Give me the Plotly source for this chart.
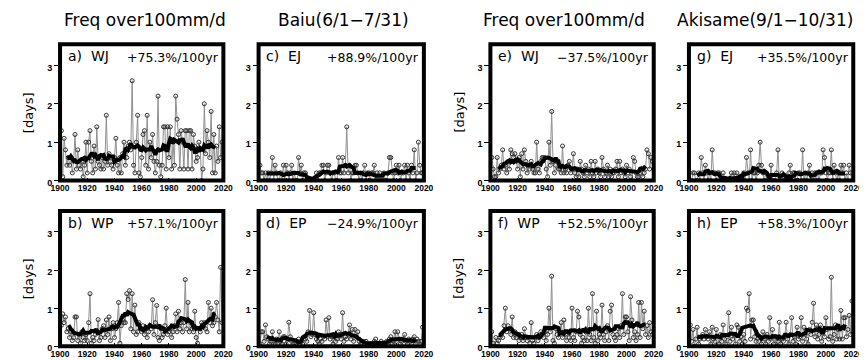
import numpy as np
import pandas as pd
import plotly.graph_objects as go

years = list(range(1901, 2020))

baiu_wj = [1.3,0.1,1.1,0.8,0.4,0.6,0.4,0.6,0.2,0.5,
           1.2,0.3,0.8,0.4,0.3,0.5,0.1,0.4,1.0,0.2,
           1.0,1.3,0.5,0.2,0.9,0.3,1.4,0.5,0.4,0.3,
           0.6,0.3,0.5,1.7,0.4,0.7,0.5,0.4,0.3,0.6,
           1.1,0.4,0.2,0.6,0.2,0.7,1.0,0.4,0.6,0.9,
           1.0,0.8,2.6,0.4,0.2,1.0,1.7,0.2,0.1,0.6,
           1.2,1.3,0.4,1.7,0.3,1.0,0.6,1.2,0.5,0.2,
           0.5,2.2,0.4,0.1,0.4,1.4,1.4,0.3,1.4,0.6,
           1.4,0.3,1.0,0.4,2.2,1.6,1.2,0.3,1.3,1.0,
           0.3,1.3,1.3,0.3,1.3,1.3,0.3,1.2,0.9,0.5,
           0.6,1.0,0.8,0.0,0.3,2.0,0.7,1.3,1.0,0.6,
           1.8,0.2,1.2,0.2,0.9,0.5,1.4,0.6,1.0]

baiu_wp = [0.55,0.85,0.62,0.77,0.38,0.46,0.23,0.38,0.15,0.23,
           0.77,0.77,0.15,0.31,0.08,0.38,0.23,0.15,0.31,0.15,
           0.62,1.38,0.08,0.23,0.15,0.31,0.38,0.70,0.15,0.23,
           0.46,0.54,0.23,0.69,0.31,0.77,0.15,0.46,0.62,0.23,
           0.46,0.62,1.15,0.08,0.54,0.69,0.62,0.62,1.38,1.23,
           1.46,0.46,1.38,0.38,1.08,0.31,0.38,0.62,0.46,0.38,
           0.54,0.31,0.46,0.23,0.38,0.54,0.46,1.22,0.31,0.62,
           1.07,0.23,0.15,0.46,0.23,0.31,0.54,1.00,0.31,0.38,
           0.46,0.23,0.38,0.54,0.85,0.38,0.92,0.46,0.62,0.38,
           0.62,1.75,0.46,1.15,0.38,0.62,0.46,0.38,0.92,0.23,
           0.08,0.46,0.38,0.62,0.54,0.62,0.46,0.38,1.15,0.62,
           1.00,0.54,0.62,0.77,1.15,0.69,0.38,2.07,0.62]

baiu_ej = [0.4,0.2,0.2,0.0,0.2,0.0,0.2,0.0,0.2,0.6,
           0.0,0.4,0.2,0.0,0.0,0.2,0.0,0.4,0.0,0.4,
           0.2,0.0,0.2,0.4,0.0,0.2,0.0,0.0,0.6,0.2,
           0.4,0.0,0.2,0.2,0.0,0.0,0.0,0.0,0.0,0.0,
           0.0,0.2,0.0,0.2,0.2,0.4,0.4,0.0,0.2,0.4,
           0.4,0.2,0.0,0.2,0.2,0.0,0.0,0.6,0.2,0.2,
           0.6,0.2,0.4,1.4,0.2,0.4,0.0,0.2,0.2,0.4,
           0.4,0.2,0.0,0.2,0.0,0.2,0.4,0.0,0.2,0.2,
           0.0,0.2,0.2,0.4,0.0,0.2,0.0,0.2,0.0,0.0,
           0.2,0.0,0.0,0.2,0.6,0.6,0.2,0.0,0.2,0.4,
           0.2,0.4,0.0,0.2,0.2,0.4,0.0,0.4,0.2,0.0,
           0.4,0.2,0.8,0.0,0.2,1.0,0.4,0.2,0.2]

baiu_ep = [0.06,0.38,0.38,0.13,0.56,0.25,0.19,0.06,0.13,0.38,
           0.13,0.06,0.19,0.06,0.38,0.13,0.06,0.25,0.25,0.06,
           0.19,0.63,0.25,0.13,0.06,0.00,0.06,0.13,0.19,0.06,
           0.13,0.06,0.25,0.19,0.13,0.38,0.94,0.25,0.31,0.88,
           0.31,0.19,0.13,0.06,0.19,0.13,0.25,0.19,0.69,0.25,
           0.75,0.19,0.25,0.06,0.25,0.13,0.19,0.38,0.31,0.19,
           0.88,0.13,0.25,0.19,0.31,0.56,0.19,0.44,0.13,0.44,
           0.25,0.38,0.13,0.06,0.06,0.13,0.06,0.13,0.06,0.00,
           0.06,0.00,0.06,0.13,0.19,0.06,0.00,0.06,0.13,0.06,
           0.00,0.06,0.13,0.06,0.19,0.25,0.06,0.13,0.38,0.13,
           0.38,0.19,0.06,0.13,0.19,0.31,0.13,0.06,0.19,0.13,
           0.06,0.19,0.25,0.13,0.19,0.13,0.06,0.13,0.50]

aki_wj = [0.6,0.3,0.1,0.1,0.6,0.2,0.3,0.4,0.8,0.3,
          0.4,0.2,0.5,0.3,0.8,0.7,0.6,0.7,0.5,0.3,
          0.6,0.1,0.7,0.3,0.8,0.5,0.2,0.4,0.3,0.5,
          0.3,0.2,0.2,1.0,0.3,0.2,0.5,0.6,0.6,0.6,
          0.3,0.1,1.0,0.4,1.8,0.5,0.2,0.4,0.5,0.3,
          0.3,0.2,0.9,0.2,0.3,0.2,0.4,0.5,0.2,0.3,
          0.7,0.2,0.1,0.3,0.1,0.5,0.3,0.2,0.1,0.4,
          0.2,0.3,0.1,0.5,0.2,0.1,0.5,0.2,0.3,0.2,
          0.1,0.6,0.3,0.1,0.2,0.4,0.1,0.3,0.1,0.2,
          0.2,0.3,0.5,0.1,0.5,0.2,0.3,0.2,0.1,0.4,
          0.2,0.3,0.1,0.0,0.6,0.5,0.2,0.1,0.1,0.2,
          0.3,0.1,0.2,0.3,0.8,0.7,0.3,0.6,0.5]

aki_wp = [0.38,0.08,0.00,0.23,0.08,0.15,0.23,0.31,0.23,0.54,
          1.00,0.38,0.54,0.46,0.31,0.77,0.23,0.38,0.23,0.31,
          0.15,0.23,0.31,0.15,0.46,0.23,0.15,0.23,0.08,0.62,
          0.15,0.08,0.23,0.31,0.15,0.23,0.38,0.31,0.23,0.38,
          0.15,0.31,1.00,0.38,1.84,0.15,0.08,0.46,0.31,0.23,
          0.38,0.62,0.23,0.69,0.31,0.15,0.38,0.23,0.15,1.00,
          0.23,0.15,0.38,0.92,0.77,0.31,0.08,0.23,0.15,0.38,
          0.15,1.00,0.31,0.15,1.38,0.23,0.08,0.92,0.15,0.31,
          0.23,1.08,0.31,0.15,0.38,0.54,0.15,0.92,1.08,0.31,
          0.23,0.15,0.31,0.46,0.23,0.54,1.38,0.31,0.77,0.77,
          0.38,0.15,1.30,0.69,0.23,0.38,0.15,0.31,1.15,0.23,
          1.15,0.46,0.92,0.31,0.54,0.23,0.62,0.38,0.31]

aki_ej = [0.0,0.0,0.2,0.2,0.0,0.0,0.2,0.0,0.6,0.2,
          0.0,0.4,0.2,0.0,0.2,0.0,0.8,0.2,0.2,0.0,
          0.2,0.2,0.0,0.0,0.2,0.0,0.0,0.0,0.0,0.0,
          0.2,0.0,0.2,0.0,0.2,0.0,0.0,0.0,0.0,0.2,
          0.0,0.6,0.2,0.0,0.8,0.0,0.2,0.2,0.0,0.2,
          0.4,1.0,0.4,0.2,0.0,0.2,0.0,0.0,0.0,0.4,
          0.0,0.0,0.0,0.2,0.8,0.0,0.0,0.2,0.0,0.0,
          0.0,0.0,0.2,0.4,0.0,0.2,0.2,0.0,0.0,0.2,
          0.2,0.0,0.8,0.0,0.2,0.0,0.2,0.4,0.0,0.2,
          0.0,0.2,0.0,0.2,0.0,0.2,0.2,0.8,0.6,0.2,
          0.0,0.2,0.2,0.8,0.0,0.4,0.2,0.0,0.2,0.0,
          0.4,0.2,0.4,0.0,0.2,0.0,0.4,0.2,0.0]

aki_ep = [0.56,0.13,0.44,0.00,0.19,0.50,0.06,0.19,0.25,0.31,
          0.19,0.44,0.25,0.19,0.38,0.06,0.50,0.19,0.13,0.44,
          0.25,0.06,0.31,0.13,0.56,0.19,0.06,0.25,0.88,0.13,
          0.50,0.19,0.31,0.06,0.56,0.50,0.13,0.25,0.06,0.31,
          0.13,1.00,0.94,1.38,0.19,0.69,0.69,0.25,0.13,0.31,
          0.13,0.25,0.06,0.38,0.19,0.06,0.31,0.13,0.75,0.19,
          0.44,0.06,0.25,0.00,0.13,0.63,0.06,0.19,0.13,0.25,
          0.63,0.19,0.06,0.31,0.75,0.13,0.25,0.06,0.50,0.19,
          0.25,0.75,0.13,0.50,0.31,0.19,0.06,0.44,0.31,0.63,
          1.13,0.25,0.56,0.19,0.31,0.56,0.13,0.38,0.25,0.75,
          0.44,0.19,0.25,1.81,0.13,0.31,0.56,0.19,0.44,0.19,
          0.94,0.19,0.75,0.75,0.25,0.44,0.81,0.31,1.19]

panel_letters = ["a)", "b)", "c)", "d)", "e)", "f)", "g)", "h)"]
regions = ["WJ", "WP", "EJ", "EP", "WJ", "WP", "EJ", "EP"]
trends = ["+75.3%/100yr", "+57.1%/100yr", "+88.9%/100yr", "\u221224.9%/100yr",
          "\u221237.5%/100yr", "+52.5%/100yr", "+35.5%/100yr", "+58.3%/100yr"]
series = [baiu_wj, baiu_wp, baiu_ej, baiu_ep, aki_wj, aki_wp, aki_ej, aki_ep]
titles = ["Freq over100mm/d", "Baiu(6/1\u22127/31)", "Freq over100mm/d", "Akisame(9/1\u221210/31)"]
x_ticks = [1900, 1920, 1940, 1960, 1980, 2000, 2020]
y_ticks = [0, 1, 2, 3]

W, H = 867, 360
# panel frame centre-lines in pixels (left, right) per column, (top, bottom) per row
cols_px = [(44, 211), (247, 416), (484, 651), (687, 855)]
rows_px = [(37, 176), (207, 345)]

fig = go.Figure()
shapes = []
annotations = []
XTICKFONT = dict(family="Liberation Sans", size=8.5, color="black", weight="bold")
YTICKFONT = dict(family="Liberation Sans", size=9, color="black", weight="bold")
for i in range(8):
    col = i // 2
    row = i % 2
    n = i + 1
    xa = "xaxis" if n == 1 else f"xaxis{n}"
    ya = "yaxis" if n == 1 else f"yaxis{n}"
    xr = "x" if n == 1 else f"x{n}"
    yr = "y" if n == 1 else f"y{n}"
    l, r = cols_px[col]
    t, b = rows_px[row]
    vals = series[i]
    sm = pd.Series(vals).rolling(11, center=True).mean()
    fig.add_trace(go.Scatter(x=years, y=vals, mode="lines+markers", xaxis=xr, yaxis=yr,
                             line=dict(color="#8f8f8f", width=1),
                             marker=dict(symbol="circle-open", size=4, color="#333333",
                                         line=dict(width=1)),
                             showlegend=False))
    fig.add_trace(go.Scatter(x=years, y=sm, mode="lines", xaxis=xr, yaxis=yr,
                             line=dict(color="black", width=4), showlegend=False))
    fig.layout[xa] = dict(domain=[l / W, r / W], range=[1900, 2020], anchor=yr,
                          tickvals=x_ticks, ticks="inside", ticklen=3, tickwidth=1,
                          tickfont=XTICKFONT, showgrid=False, zeroline=False,
                          showline=False, tickcolor="black", ticklabeloverflow="allow",
                          ticklabelstandoff=1)
    fig.layout[ya] = dict(domain=[1 - b / H, 1 - t / H], range=[0, 3.55], anchor=xr,
                          tickvals=y_ticks, ticks="outside", ticklen=5, tickwidth=1,
                          tickfont=YTICKFONT, showgrid=False, zeroline=False,
                          showline=False, tickcolor="black", ticklabelshift=2)
    shapes.append(dict(type="rect", xref=f"{xr} domain", yref=f"{yr} domain",
                       x0=0, x1=1, y0=0, y1=1, line=dict(color="black", width=4),
                       layer="above"))
    annotations.append(dict(text=f"{panel_letters[i]}\u00a0 {regions[i]}",
                            xref=f"{xr} domain", yref=f"{yr} domain", x=0.035, y=0.985,
                            xanchor="left", yanchor="top", showarrow=False,
                            font=dict(family="DejaVu Sans", size=14, color="black")))
    annotations.append(dict(text=trends[i], xref=f"{xr} domain", yref=f"{yr} domain",
                            x=0.985, y=0.975, xanchor="right", yanchor="top",
                            showarrow=False,
                            font=dict(family="DejaVu Sans", size=12.5, color="black")))
    if col in (0, 2):
        annotations.append(dict(text="[days]", xref="paper", yref="paper",
                                x=(l - 32) / W, y=1 - (t + b) / 2 / H, textangle=-90,
                                xanchor="center", yanchor="middle", showarrow=False,
                                font=dict(family="DejaVu Sans", size=13, color="black")))

# top titles
annotations.append(dict(text=titles[0], xref="paper", yref="paper", x=46 / W, y=1 - 12 / H,
                        xanchor="left", yanchor="middle", showarrow=False,
                        font=dict(family="DejaVu Sans", size=17, color="black")))
annotations.append(dict(text=titles[1], xref="paper", yref="paper", x=403 / W, y=1 - 12 / H,
                        xanchor="right", yanchor="middle", showarrow=False,
                        font=dict(family="DejaVu Sans", size=17, color="black")))
annotations.append(dict(text=titles[2], xref="paper", yref="paper", x=474 / W, y=1 - 12 / H,
                        xanchor="left", yanchor="middle", showarrow=False,
                        font=dict(family="DejaVu Sans", size=17, color="black")))
annotations.append(dict(text=titles[3], xref="paper", yref="paper", x=857 / W, y=1 - 12 / H,
                        xanchor="right", yanchor="middle", showarrow=False,
                        font=dict(family="DejaVu Sans", size=17, color="black")))

fig.update_layout(width=W, height=H, margin=dict(l=0, r=0, t=0, b=0),
                  paper_bgcolor="white", plot_bgcolor="white",
                  shapes=shapes, annotations=annotations, showlegend=False)
fig.write_html("out.html")
